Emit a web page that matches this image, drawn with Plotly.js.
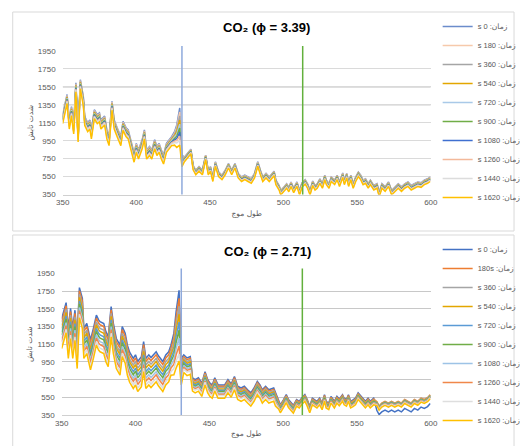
<!DOCTYPE html>
<html><head><meta charset="utf-8">
<script src="https://cdn.plot.ly/plotly-3.0.1.min.js"></script>
<style>html,body{margin:0;padding:0;background:#fff;}#chart{width:526px;height:446px;}</style>
</head><body><div id="chart"></div>
<script>
// Wavelength grid (nm), shared by both panels
const wavelength = [350,353,354.5,356,357.5,359,360.5,362,364,365,367,368.5,369.5,371.5,373.5,375,376,378.5,380,381.5,383.5,385,387,389.5,391,393,394.5,396,398.5,400,401.5,404,405.5,407,409,410.5,412.5,414,415.5,417,418.5,420.5,422.5,424,426,427.5,429.5,431,
432.7,434.9,437.1,438.6,440.4,442.6,444.9,447.1,448.9,450.4,452,453.7,455.9,458.2,460.4,462.6,464.8,467,469.2,471.5,473.7,475.9,478.1,480.3,482.5,484.3,485.9,488.1,490.3,493.6,494.8,497,498.1,500.3,502.1,503.6,505.1,506.9,
509.1,510.9,512.5,514.7,516.3,518,519.8,521.4,522.9,524.7,526.4,528,529.1,530.9,532.4,534.7,536.4,538,540.2,541.3,542.9,544.2,545.7,547.3,549,550.8,552.4,554,555.7,557.5,559,561.3,563.5,565,566.8,569,571.3,573.4,575.6,577.9,580.1,582.3,584.5,586.7,588.9,591.2,593.4,595.6,597.8,599.6];

// ---- Panel 1: CO2 (phi = 3.39) ----
const top_t0 = [1240,1465,1180,1330,1125,1595,1035,1630,1445,1220,1150,1180,1070,1295,1240,1260,1180,1225,1070,995,1390,1180,1095,995,1165,1095,1070,960,810,920,845,960,1070,845,885,845,960,885,920,845,790,920,960,995,
1050,1125,1315,790,
765,810,855,675,620,660,620,790,620,660,545,715,600,565,620,695,620,695,585,545,565,545,525,585,715,620,545,585,545,610,510,450,395,435,470,430,490,420,
490,395,480,515,470,395,500,450,470,525,470,565,510,470,545,510,565,490,590,510,585,490,565,470,545,600,565,510,525,470,510,450,470,375,470,435,490,395,435,470,435,470,490,450,470,490,480,510,525,545];
const top_t180 = [1230,1455,1170,1320,1115,1585,1025,1620,1435,1210,1140,1170,1060,1285,1230,1250,1170,1215,1060,985,1380,1170,1085,985,1155,1085,1060,950,800,910,835,950,1060,835,875,835,950,875,910,835,780,910,950,985,
1035,1100,1270,775,
760,805,850,670,615,655,615,785,615,655,540,710,595,560,615,690,615,690,580,540,560,540,520,580,710,615,540,580,540,605,505,445,390,430,465,425,485,415,
485,390,475,510,465,390,495,445,465,520,465,560,505,465,540,505,560,485,585,505,580,485,560,465,540,595,560,505,520,465,505,445,465,370,465,430,485,390,430,465,430,465,485,445,465,485,475,505,520,540];
const top_t360 = [1220,1445,1160,1310,1105,1575,1015,1610,1425,1200,1130,1160,1050,1275,1220,1240,1160,1205,1050,975,1370,1160,1075,975,1145,1075,1050,940,790,900,825,940,1050,825,865,825,940,865,900,825,770,900,940,975,
1020,1075,1225,760,
755,800,845,665,610,650,610,780,610,650,535,705,590,555,610,685,610,685,575,535,555,535,515,575,705,610,535,575,535,600,500,440,385,425,460,420,480,410,
480,385,470,505,460,385,490,440,460,515,460,555,500,460,535,500,555,480,580,500,575,480,555,460,535,590,555,500,515,460,500,440,460,365,460,425,480,385,425,460,425,460,480,440,460,480,470,500,515,535];
const top_t540 = [1210,1435,1150,1300,1095,1565,1005,1600,1415,1190,1120,1150,1040,1265,1210,1230,1150,1195,1040,965,1360,1150,1065,965,1135,1065,1040,930,780,890,815,930,1040,815,855,815,930,855,890,815,760,890,930,965,
1005,1050,1180,745,
750,795,840,660,605,645,605,775,605,645,530,700,585,550,605,680,605,680,570,530,550,530,510,570,700,605,530,570,530,595,495,435,380,420,455,415,475,405,
475,380,465,500,455,380,485,435,455,510,455,550,495,455,530,495,550,475,575,495,570,475,550,455,530,585,550,495,510,455,495,435,455,360,455,420,475,380,420,455,420,455,475,435,455,475,465,495,510,530];
const top_t720 = [1200,1425,1140,1290,1085,1555,995,1590,1405,1180,1110,1140,1030,1255,1200,1220,1140,1185,1030,955,1350,1140,1055,955,1125,1055,1030,920,770,880,805,920,1030,805,845,805,920,845,880,805,750,880,920,955,
990,1025,1135,730,
745,790,835,655,600,640,600,770,600,640,525,695,580,545,600,675,600,675,565,525,545,525,505,565,695,600,525,565,525,590,490,430,375,415,450,410,470,400,
470,375,460,495,450,375,480,430,450,505,450,545,490,450,525,490,545,470,570,490,565,470,545,450,525,580,545,490,505,450,490,430,450,355,450,415,470,375,415,450,415,450,470,430,450,470,460,490,505,525];
const top_t900 = [1190,1415,1130,1280,1075,1545,985,1580,1395,1170,1100,1130,1020,1245,1190,1210,1130,1175,1020,945,1340,1130,1045,945,1115,1045,1020,910,760,870,795,910,1020,795,835,795,910,835,870,795,740,870,910,945,
975,1000,1090,715,
740,785,830,650,595,635,595,765,595,635,520,690,575,540,595,670,595,670,560,520,540,520,500,560,690,595,520,560,520,585,485,425,370,410,445,405,465,395,
465,370,455,490,445,370,475,425,445,500,445,540,485,445,520,485,540,465,565,485,560,465,540,445,520,575,540,485,500,445,485,425,445,350,445,410,465,370,410,445,410,445,465,425,445,465,455,485,500,520];
const top_t1080 = [1180,1405,1120,1270,1065,1535,975,1570,1385,1160,1090,1120,1010,1235,1180,1200,1120,1165,1010,935,1330,1120,1035,935,1105,1035,1010,900,750,860,785,900,1010,785,825,785,900,825,860,785,730,860,900,935,
960,975,1045,700,
735,780,825,645,590,630,590,760,590,630,515,685,570,535,590,665,590,665,555,515,535,515,495,555,685,590,515,555,515,580,480,420,365,405,440,400,460,390,
460,365,450,485,440,365,470,420,440,495,440,535,480,440,515,480,535,460,560,480,555,460,535,440,515,570,535,480,495,440,480,420,440,345,440,405,460,365,405,440,405,440,460,420,440,460,450,480,495,515];
const top_t1260 = [1170,1395,1110,1260,1055,1525,965,1560,1375,1150,1080,1110,1000,1225,1170,1190,1110,1155,1000,925,1320,1110,1025,925,1095,1025,1000,890,740,850,775,890,1000,775,815,775,890,815,850,775,720,850,890,925,
945,950,1000,690,
730,775,820,640,585,625,585,755,585,625,510,680,565,530,585,660,585,660,550,510,530,510,490,550,680,585,510,550,510,575,475,415,360,400,435,395,455,385,
455,360,445,480,435,360,465,415,435,490,435,530,475,435,510,475,530,455,555,475,550,455,530,435,510,565,530,475,490,435,475,415,435,340,435,400,455,360,400,435,400,435,455,415,435,455,445,475,490,510];
const top_t1440 = [1160,1385,1100,1250,1045,1515,955,1550,1365,1140,1070,1100,990,1215,1160,1180,1100,1145,990,915,1310,1100,1015,915,1085,1015,990,880,730,840,765,880,990,765,805,765,880,805,840,765,710,840,880,915,
930,925,955,680,
725,770,815,635,580,620,580,750,580,620,505,675,560,525,580,655,580,655,545,505,525,505,485,545,675,580,505,545,505,570,470,410,355,395,430,390,450,380,
450,355,440,475,430,355,460,410,430,485,430,525,470,430,505,470,525,450,550,470,545,450,525,430,505,560,525,470,485,430,470,410,430,335,430,395,450,355,395,430,395,430,450,410,430,450,440,470,485,505];
const top_t1620 = [1140,1365,1080,1230,1025,1495,935,1530,1345,1120,1050,1080,970,1195,1140,1160,1080,1125,970,895,1290,1080,995,895,1065,995,970,860,710,820,745,860,970,745,785,745,860,785,820,745,690,820,860,895,
900,875,900,660,
715,760,805,625,570,610,570,740,570,610,495,665,550,515,570,645,570,645,535,495,515,495,475,535,665,570,495,535,495,560,460,400,345,385,420,380,440,370,
440,345,430,465,420,345,450,400,420,475,420,515,460,420,495,460,515,440,540,460,535,440,515,420,495,550,515,460,475,420,460,400,420,325,420,385,440,345,385,420,385,420,440,400,420,440,430,460,475,495];

// ---- Panel 2: CO2 (phi = 2.71) ----
const bot_t0 = [1440,1620,1330,1555,1330,1535,1215,1790,1670,1330,1385,1290,1200,1330,1480,1425,1405,1385,1290,1235,1575,1385,1215,1140,1350,1275,1140,1060,990,1030,955,1010,1180,990,1030,1000,1040,1065,1020,990,955,1030,1065,1140,
1275,1520,1760,990,
1030,995,1010,
770,750,770,710,840,750,710,690,770,690,690,690,750,700,785,675,655,675,635,600,655,730,690,635,675,635,655,600,
505,465,525,580,525,500,460,
525,505,540,580,525,450,540,520,505,540,485,580,505,485,560,505,560,530,580,540,525,580,505,520,540,600,570,540,505,540,505,540,
400,355,385,405,385,405,385,405,385,425,405,385,425,405,440,425,445,480];
const bot_t180 = [1405,1585,1295,1520,1295,1500,1180,1755,1635,1295,1350,1255,1165,1295,1445,1390,1370,1350,1255,1200,1540,1350,1180,1105,1315,1240,1105,1025,955,995,920,975,1145,955,995,965,1005,1030,985,955,920,995,1030,1105,
1225,1450,1670,960,
1010,975,990,
755,735,755,695,825,735,695,675,755,675,675,675,735,685,770,660,640,660,620,585,640,715,675,620,660,620,640,585,
495,455,515,570,515,490,450,
515,495,530,570,515,440,530,510,495,530,475,570,495,475,550,495,550,520,570,530,515,570,495,510,530,590,560,530,495,530,495,530,
500,450,485,505,485,505,485,505,485,525,505,485,525,505,540,525,545,580];
const bot_t360 = [1365,1545,1255,1480,1255,1460,1140,1715,1595,1255,1310,1215,1125,1255,1405,1350,1330,1310,1215,1160,1500,1310,1140,1065,1275,1200,1065,985,915,955,880,935,1105,915,955,925,965,990,945,915,880,955,990,1065,
1175,1380,1580,925,
990,955,970,
740,720,740,680,810,720,680,660,740,660,660,660,720,670,755,645,625,645,605,570,625,700,660,605,645,605,625,570,
485,445,505,560,505,480,440,
505,485,520,560,505,430,520,500,485,520,465,560,485,465,540,485,540,510,560,520,505,560,485,500,520,580,550,520,485,520,485,520,
495,445,480,500,480,500,480,500,480,520,500,480,520,500,535,520,540,575];
const bot_t540 = [1330,1510,1220,1445,1220,1425,1105,1680,1560,1220,1275,1180,1090,1220,1370,1315,1295,1275,1180,1125,1465,1275,1105,1030,1240,1165,1030,950,880,920,845,900,1070,880,920,890,930,955,910,880,845,920,955,1030,
1125,1310,1490,890,
970,935,950,
725,705,725,665,795,705,665,645,725,645,645,645,705,655,740,630,610,630,590,555,610,685,645,590,630,590,610,555,
475,435,495,550,495,470,430,
500,480,515,555,500,425,515,495,480,515,460,555,480,460,535,480,535,505,555,515,500,555,480,495,515,575,545,515,480,515,480,515,
490,440,475,495,475,495,475,495,475,515,495,475,515,495,530,515,535,570];
const bot_t720 = [1290,1470,1180,1405,1180,1385,1065,1640,1520,1180,1235,1140,1050,1180,1330,1275,1255,1235,1140,1085,1425,1235,1065,990,1200,1125,990,910,840,880,805,860,1030,840,880,850,890,915,870,840,805,880,915,990,
1075,1240,1400,855,
950,915,930,
710,690,710,650,780,690,650,630,710,630,630,630,690,640,725,615,595,615,575,540,595,670,630,575,615,575,595,540,
465,425,485,540,485,460,420,
490,470,505,545,490,415,505,485,470,505,450,545,470,450,525,470,525,495,545,505,490,545,470,485,505,565,535,505,470,505,470,505,
485,435,470,490,470,490,470,490,470,510,490,470,510,490,525,510,530,565];
const bot_t900 = [1255,1435,1145,1370,1145,1350,1030,1605,1485,1145,1200,1105,1015,1145,1295,1240,1220,1200,1105,1050,1390,1200,1030,955,1165,1090,955,875,805,845,770,825,995,805,845,815,855,880,835,805,770,845,880,955,
1025,1170,1310,820,
930,895,910,
695,675,695,635,765,675,635,615,695,615,615,615,675,625,710,600,580,600,560,525,580,655,615,560,600,560,580,525,
455,415,475,530,475,450,410,
485,465,500,540,485,410,500,480,465,500,445,540,465,445,520,465,520,490,540,500,485,540,465,480,500,560,530,500,465,500,465,500,
480,430,465,485,465,485,465,485,465,505,485,465,505,485,520,505,525,560];
const bot_t1080 = [1215,1395,1105,1330,1105,1310,990,1565,1445,1105,1160,1065,975,1105,1255,1200,1180,1160,1065,1010,1350,1160,990,915,1125,1050,915,835,765,805,730,785,955,765,805,775,815,840,795,765,730,805,840,915,
975,1100,1220,790,
910,875,890,
680,660,680,620,750,660,620,600,680,600,600,600,660,610,695,585,565,585,545,510,565,640,600,545,585,545,565,510,
445,405,465,520,465,440,400,
475,455,490,530,475,400,490,470,455,490,435,530,455,435,510,455,510,480,530,490,475,530,455,470,490,550,520,490,455,490,455,490,
475,425,460,480,460,480,460,480,460,500,480,460,500,480,515,500,520,555];
const bot_t1260 = [1180,1360,1070,1295,1070,1275,955,1530,1410,1070,1125,1030,940,1070,1220,1165,1145,1125,1030,975,1315,1125,955,880,1090,1015,880,800,730,770,695,750,920,730,770,740,780,805,760,730,695,770,805,880,
925,1030,1130,755,
890,855,870,
665,645,665,605,735,645,605,585,665,585,585,585,645,595,680,570,550,570,530,495,550,625,585,530,570,530,550,495,
435,395,455,510,455,430,390,
470,450,485,525,470,395,485,465,450,485,430,525,450,430,505,450,505,475,525,485,470,525,450,465,485,545,515,485,450,485,450,485,
470,420,455,475,455,475,455,475,455,495,475,455,495,475,510,495,515,550];
const bot_t1440 = [1140,1320,1030,1255,1030,1235,915,1490,1370,1030,1085,990,900,1030,1180,1125,1105,1085,990,935,1275,1085,915,840,1050,975,840,760,690,730,655,710,880,690,730,700,740,765,720,690,655,730,765,840,
875,960,1040,725,
870,835,850,
650,630,650,590,720,630,590,570,650,570,570,570,630,580,665,555,535,555,515,480,535,610,570,515,555,515,535,480,
425,385,445,500,445,420,380,
460,440,475,515,460,385,475,455,440,475,420,515,440,420,495,440,495,465,515,475,460,515,440,455,475,535,505,475,440,475,440,475,
465,415,450,470,450,470,450,470,450,490,470,450,490,470,505,490,510,545];
const bot_t1620 = [1100,1280,990,1215,990,1195,875,1450,1330,990,1045,950,860,990,1140,1085,1065,1045,950,895,1235,1045,875,800,1010,935,800,720,650,690,615,670,840,650,690,660,700,725,680,650,615,690,725,800,
805,880,960,690,
830,795,810,
620,600,620,560,690,600,560,540,620,540,540,540,600,550,635,525,505,525,485,450,505,580,540,485,525,485,505,450,
415,375,435,490,435,410,370,
450,430,465,505,450,375,465,445,430,465,410,505,430,410,485,430,485,455,505,465,450,505,430,445,465,525,495,465,430,465,430,465,
455,405,440,460,440,460,440,460,440,480,460,440,480,460,495,480,500,535];

// Legend labels and colours
const labelsTop = ['زمان: 0 s','زمان: 180 s','زمان: 360 s','زمان: 540 s','زمان: 720 s','زمان: 900 s','زمان: 1080 s','زمان: 1260 s','زمان: 1440 s','زمان: 1620 s'];
const labelsBot = ['زمان: 0 s','زمان: 180s','زمان: 360 s','زمان: 540 s','زمان: 720 s','زمان: 900 s','زمان: 1080 s','زمان: 1260 s','زمان: 1440 s','زمان: 1620 s'];
const colorsTop = ['#6b8ccb','#f6c9ab','#a5a5a5','#e3a600','#a9c9e8','#70ad47','#3f6fd0','#f3b99a','#dcdcdc','#ffc000'];
const colorsBot = ['#4472c4','#ed7d31','#a5a5a5','#e3a600','#5b9bd5','#70ad47','#9dc3e6','#f0874a','#dedede','#ffc000'];
const xTicks = [350,400,450,500,550,600];
const yTicks = [350,550,750,950,1150,1350,1550,1750,1950];
const darkGridTop = [1550, 1350];
const markerLines = [431, 513];
const markerColors = ['#8faadc','#62b03c'];
const titleTop = 'CO₂ (ϕ = 3.39)';
const titleBot = 'CO₂ (ϕ = 2.71)';
const xTitle = 'طول موج';
const yTitle = 'شدت تابش';

const topSeries = [top_t0,top_t180,top_t360,top_t540,top_t720,top_t900,top_t1080,top_t1260,top_t1440,top_t1620];
const botSeries = [bot_t0,bot_t180,bot_t360,bot_t540,bot_t720,bot_t900,bot_t1080,bot_t1260,bot_t1440,bot_t1620];

const W = 526, H = 446;
const px = v => v / W;
const py = v => 1 - v / H;
const rtl = s => '\u202B' + s + '\u202C';

const traces = [];
topSeries.forEach((ys, i) => traces.push({
  x: wavelength, y: ys, type: 'scatter', mode: 'lines', name: rtl(labelsTop[i]),
  line: {color: colorsTop[i], width: 1.5}, xaxis: 'x', yaxis: 'y', legend: 'legend', hoverinfo: 'skip'
}));
botSeries.forEach((ys, i) => traces.push({
  x: wavelength, y: ys, type: 'scatter', mode: 'lines', name: rtl(labelsBot[i]),
  line: {color: colorsBot[i], width: 1.5}, xaxis: 'x2', yaxis: 'y2', legend: 'legend2', hoverinfo: 'skip'
}));

const tickFont = {family: 'Liberation Sans, Arial, sans-serif', size: 8, color: '#595959'};
const axTitleFont = {family: 'DejaVu Sans, sans-serif', size: 7.5, color: '#595959'};
function xAxis(dom, anchor) {
  return {domain: dom, anchor: anchor, range: [350, 600], tickvals: xTicks, showgrid: false, zeroline: false,
    showline: true, linecolor: '#d0d0d0', linewidth: 1, ticks: '', tickfont: tickFont, fixedrange: true,
    title: {text: xTitle, font: axTitleFont, standoff: 4}};
}
function yAxis(dom, anchor, grid) {
  return {domain: dom, anchor: anchor, range: [350, 1950], tickvals: yTicks, showgrid: true, gridcolor: grid,
    gridwidth: 1, zeroline: false, showline: false, ticks: '', tickfont: tickFont, ticklabelstandoff: 6, fixedrange: true,
    title: {text: yTitle, font: axTitleFont, standoff: 3}};
}

const legendFont = {family: 'Liberation Sans, DejaVu Sans, sans-serif', size: 7.5, color: '#595959'};
const shapes = [
  {type: 'rect', xref: 'paper', yref: 'paper', x0: px(13), x1: px(525), y0: py(231), y1: py(12), line: {color: '#d9d9d9', width: 1}},
  {type: 'rect', xref: 'paper', yref: 'paper', x0: px(13), x1: px(525), y0: py(447), y1: py(235), line: {color: '#d9d9d9', width: 1}}
];
darkGridTop.forEach(g => shapes.push({type: 'line', xref: 'x', yref: 'y', x0: 350, x1: 600, y0: g, y1: g, layer: 'below', line: {color: '#ababab', width: 1}}));
markerLines.forEach((m, i) => {
  shapes.push({type: 'line', xref: 'x', yref: 'paper', x0: m, x1: m, y0: py(194.5), y1: py(46), line: {color: markerColors[i], width: 1.5}});
  shapes.push({type: 'line', xref: 'x2', yref: 'paper', x0: m, x1: m, y0: py(415), y1: py(268.5), line: {color: markerColors[i], width: 1.5}});
});

const titleFont = {family: 'Liberation Sans, DejaVu Sans, Arial, sans-serif', size: 13, color: '#000', weight: 'bold'};
const annotations = [
  {xref: 'paper', yref: 'paper', x: px(272), y: py(28), text: titleTop, showarrow: false, font: titleFont, xanchor: 'center', yanchor: 'middle'},
  {xref: 'paper', yref: 'paper', x: px(273), y: py(252), text: titleBot, showarrow: false, font: titleFont, xanchor: 'center', yanchor: 'middle'}
];

const layout = {
  width: W, height: H, margin: {l: 0, r: 0, t: 0, b: 0}, paper_bgcolor: '#fff', plot_bgcolor: '#fff',
  showlegend: true,
  xaxis: xAxis([px(64), px(440)], 'y'),
  yaxis: yAxis([py(194.5), py(51)], 'x', '#dadada'),
  xaxis2: xAxis([px(63), px(440)], 'y2'),
  yaxis2: yAxis([py(415), py(273.5)], 'x2', '#c8c8c8'),
  legend: {x: px(447), xanchor: 'left', y: py(12), yanchor: 'top', font: legendFont, bgcolor: 'rgba(0,0,0,0)', borderwidth: 0, traceorder: 'normal', itemwidth: 30},
  legend2: {x: px(447), xanchor: 'left', y: py(235), yanchor: 'top', font: legendFont, bgcolor: 'rgba(0,0,0,0)', borderwidth: 0, traceorder: 'normal', itemwidth: 30},
  shapes: shapes,
  annotations: annotations
};

Plotly.newPlot('chart', traces, layout, {staticPlot: true, displayModeBar: false});
</script>
</body></html>
